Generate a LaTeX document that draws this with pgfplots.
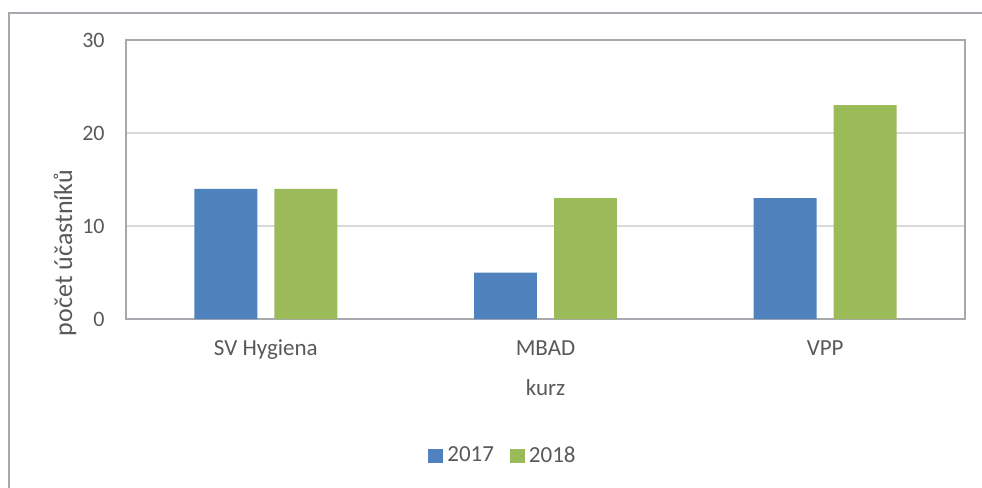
\documentclass[border=0pt]{standalone}
\usepackage{pgfplots}
\pgfplotsset{compat=1.18}
\usepackage{fontspec}
\setmainfont{Carlito}

\definecolor{bar17}{HTML}{4F81BD}
\definecolor{bar18}{HTML}{9BBB59}
\definecolor{txtgray}{HTML}{595959}
\definecolor{framegray}{RGB}{166,170,175}
\definecolor{gridgray}{RGB}{217,217,217}

\begin{document}
\begin{tikzpicture}
\useasboundingbox (0,0) rectangle (491pt,244pt);
% outer chart frame (cut by the screenshot on the right and bottom)
\draw[framegray, line width=1.2pt] (4.5pt,0pt) -- (4.5pt,237.5pt) -- (492pt,237.5pt);

\begin{axis}[
  at={(63pt,84.5pt)}, anchor=south west,
  scale only axis, width=419.5pt, height=139.5pt,
  xmin=-0.5, xmax=2.5, ymin=0, ymax=30,
  xtick={0,1,2}, xticklabels={SV Hygiena, MBAD, VPP},
  ytick={0,10,20,30},
  major tick length=0pt,
  ymajorgrids, grid style={draw=gridgray, line width=0.75pt},
  axis line style={draw=framegray, line width=1.1pt},
  font=\fontsize{11.5pt}{13pt}\selectfont,
  /pgf/number format/assume math mode=true,
  every tick label/.append style={text=txtgray},
  xticklabel style={anchor=base, inner sep=0pt, yshift=-18pt},
  yticklabel style={anchor=east, inner sep=0pt, xshift=-10.5pt, font=\fontsize{11pt}{13pt}\selectfont},
  xlabel={kurz}, ylabel={počet účastníků},
  every axis x label/.style={at={(rel axis cs:0.5,-0.247)}, anchor=center, text=txtgray},
  every axis y label/.style={at={(rel axis cs:-0.0727,0.237)}, rotate=90, anchor=center,
    text=txtgray, font=\fontsize{13pt}{15pt}\selectfont},
  legend columns=2,
  legend style={at={(rel axis cs:0.4505,-0.491)}, anchor=center, draw=none, fill=none,
    text=txtgray, /tikz/every even column/.append style={column sep=6pt}},
  legend image code/.code={\fill[#1] (0pt,-3.5pt) rectangle (7.5pt,3.5pt);},
]
\addplot[ybar, bar width=0.225, bar shift=-0.143, fill=bar17, draw=none]
  coordinates {(0,14) (1,5) (2,13)};
\addlegendentry{2017}
\addplot[ybar, bar width=0.225, bar shift=0.143, fill=bar18, draw=none]
  coordinates {(0,14) (1,13) (2,23)};
\addlegendentry{2018}
\end{axis}
\end{tikzpicture}
\end{document}
